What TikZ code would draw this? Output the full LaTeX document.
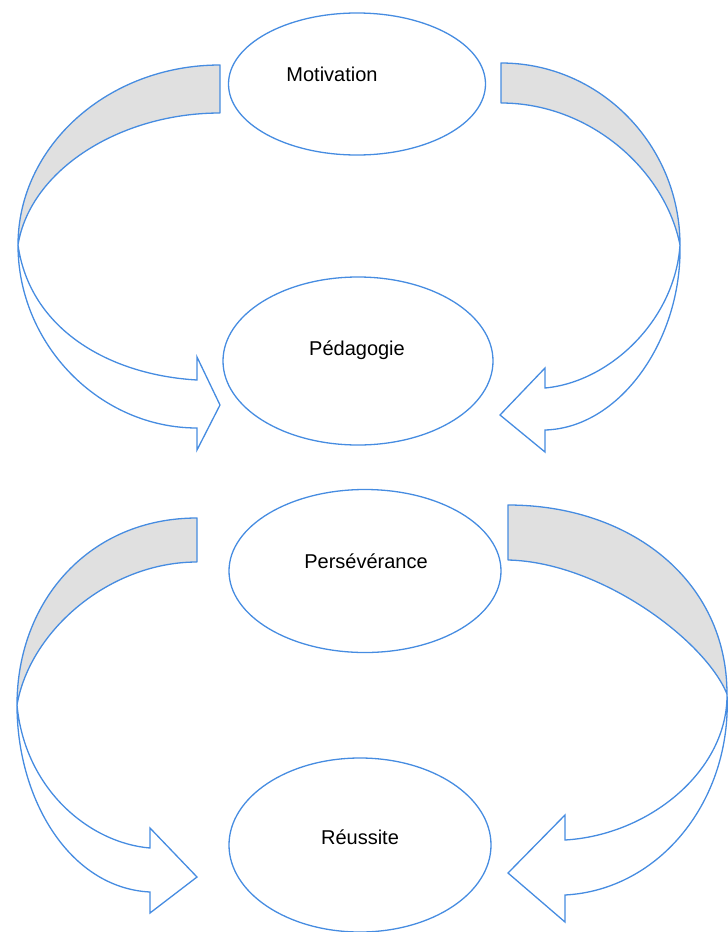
\documentclass[tikz,border=0pt]{standalone}
\usepackage{fontspec}
\usepackage{xcolor}
\setmainfont{Liberation Sans}
\usetikzlibrary{shapes.geometric}
\definecolor{lineblue}{RGB}{70,140,225}
\definecolor{backgray}{RGB}{224,224,224}

\begin{document}
\begin{tikzpicture}[x=1pt, y=-1pt,
	bubble/.style={ellipse, draw=lineblue, line width=1.3pt, inner sep=0pt},
	word/.style={font=\fontsize{20}{24}\selectfont, text=black},
	back/.style={draw=lineblue, line width=1.3pt, fill=backgray, line join=round},
	front/.style={draw=lineblue, line width=1.3pt, fill=white, line join=miter}]
				\useasboundingbox (0,0) rectangle (728,932);
				% ellipses
				\node[bubble, minimum width=257pt, minimum height=142pt] (motiv) at (357,84) {};
				\node[bubble, minimum width=270pt, minimum height=168pt] (pedago) at (358,361) {};
				\node[bubble, minimum width=272pt, minimum height=163pt] (perse) at (365,571) {};
				\node[bubble, minimum width=262pt, minimum height=174pt] (reuss) at (360,845) {};
				\node[word] (motivT) at (332,74) {Motivation};
				\node[word] (pedagoT) at (357,350) {Pédagogie};
				\node[word] (perseT) at (366,561) {Persévérance};
				\node[word] (reussT) at (360,837) {Réussite};
				% top left arrow
				\draw[back] (220,65) .. controls (108,65) and (18,146) .. (18,245) .. controls (30,170) and (120,113) .. (220,113) -- cycle;
				\draw[front] (18,245) .. controls (30,330) and (110,375) .. (197,380) -- (197,357) -- (220,405) -- (197,450) -- (197,428) .. controls (100,428) and (18,345) .. (18,245) -- cycle;
				% top right arrow
				\draw[back] (501,63) .. controls (600,63) and (680,145) .. (680,245) .. controls (665,170) and (590,103) .. (501,103) -- cycle;
				\draw[front] (680,245) .. controls (675,320) and (610,382) .. (545,388) -- (545,368) -- (500,415) -- (545,452) -- (545,430) .. controls (620,428) and (682,340) .. (680,245) -- cycle;
				% bottom left arrow
				\draw[back] (197,518) .. controls (90,518) and (17,600) .. (17,705) .. controls (30,630) and (110,562) .. (197,562) -- cycle;
				\draw[front] (17,705) .. controls (25,790) and (90,843) .. (150,848) -- (150,828) -- (197,877) -- (150,913) -- (150,892) .. controls (70,888) and (17,800) .. (17,705) -- cycle;
				% bottom right arrow
				\draw[back] (508,505) .. controls (630,505) and (727,580) .. (727,694) .. controls (705,640) and (600,562) .. (508,560) -- cycle;
				\draw[front] (727,694) .. controls (728,770) and (650,835) .. (565,840) -- (565,815) -- (508,873) -- (565,922) -- (565,895) .. controls (660,890) and (732,800) .. (727,694) -- cycle;
			\end{tikzpicture}
\end{document}
